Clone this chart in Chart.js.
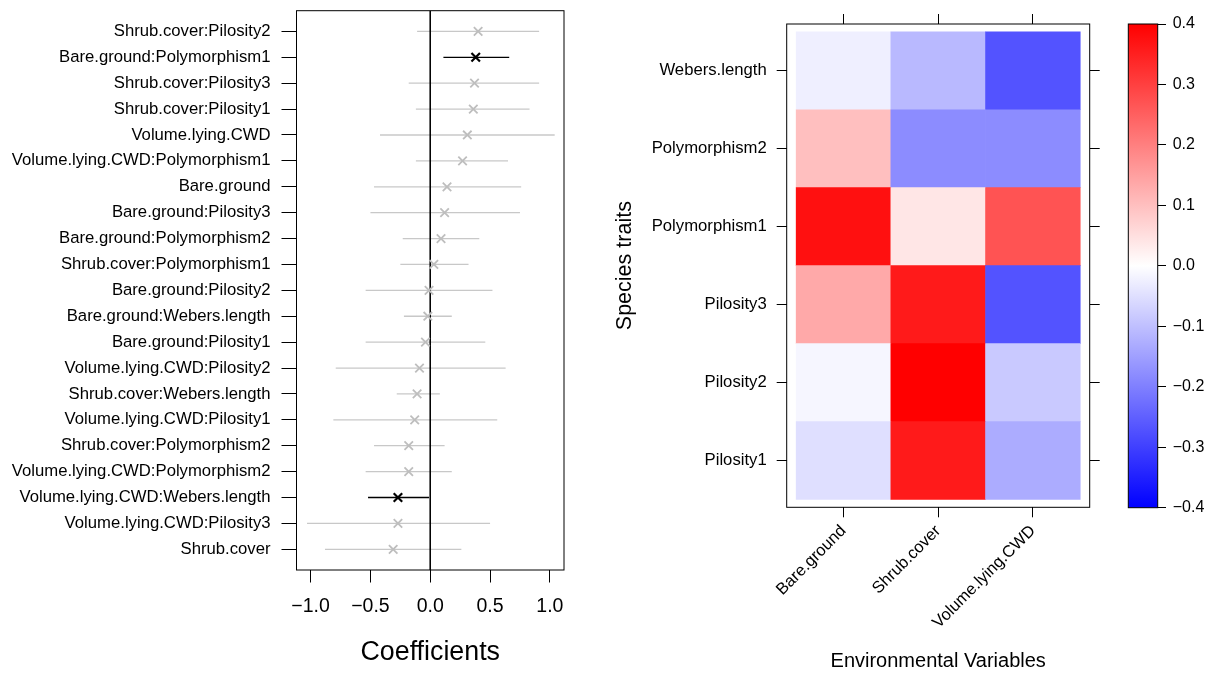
<!DOCTYPE html>
<html>
<head>
<meta charset="utf-8">
<script src="https://cdn.jsdelivr.net/npm/chart.js@4.4.1/dist/chart.umd.min.js"></script>
<style>
  html, body { margin: 0; padding: 0; background: #fff; }
  body { width: 1215px; height: 673px; position: relative; overflow: hidden; }
  .box { position: absolute; top: 0; height: 673px; }
  #coef-box { left: 0; width: 600px; }
  #heat-box { left: 600px; width: 520px; }
  #scale-box { left: 1120px; width: 95px; }
</style>
</head>
<body>
<div class="box" id="coef-box"><canvas id="coef-chart"></canvas></div>
<div class="box" id="heat-box"><canvas id="heat-chart"></canvas></div>
<div class="box" id="scale-box"><canvas id="scale-chart"></canvas></div>
<script>
// model terms, top to bottom
const terms = [
    'Shrub.cover:Pilosity2', 'Bare.ground:Polymorphism1', 'Shrub.cover:Pilosity3',
    'Shrub.cover:Pilosity1', 'Volume.lying.CWD', 'Volume.lying.CWD:Polymorphism1',
    'Bare.ground', 'Bare.ground:Pilosity3', 'Bare.ground:Polymorphism2',
    'Shrub.cover:Polymorphism1', 'Bare.ground:Pilosity2', 'Bare.ground:Webers.length',
    'Bare.ground:Pilosity1', 'Volume.lying.CWD:Pilosity2', 'Shrub.cover:Webers.length',
    'Volume.lying.CWD:Pilosity1', 'Shrub.cover:Polymorphism2', 'Volume.lying.CWD:Polymorphism2',
    'Volume.lying.CWD:Webers.length', 'Volume.lying.CWD:Pilosity3', 'Shrub.cover'
];
const estimates = [0.40, 0.38, 0.37, 0.36, 0.31, 0.27, 0.14, 0.12, 0.09, 0.03, -0.01, -0.02,
    -0.04, -0.09, -0.11, -0.13, -0.18, -0.18, -0.27, -0.27, -0.31];
const lower = [-0.11, 0.11, -0.18, -0.12, -0.42, -0.12, -0.47, -0.50, -0.23, -0.25, -0.54, -0.22,
    -0.54, -0.79, -0.28, -0.81, -0.47, -0.54, -0.52, -1.03, -0.88];
const upper = [0.91, 0.66, 0.91, 0.83, 1.04, 0.65, 0.76, 0.75, 0.41, 0.32, 0.52, 0.18,
    0.46, 0.63, 0.08, 0.56, 0.12, 0.18, -0.01, 0.50, 0.26];
const significant = [false, true, false, false, false, false, false, false, false, false, false,
    false, false, false, false, false, false, false, true, false, false];
const coefTicks = [-1, -0.5, 0, 0.5, 1];

// heatmap, traits listed bottom to top
const envVars = ['Bare.ground', 'Shrub.cover', 'Volume.lying.CWD'];
const traits = ['Pilosity1', 'Pilosity2', 'Pilosity3', 'Polymorphism1', 'Polymorphism2', 'Webers.length'];
const pilosity1 = [-0.05, 0.36, -0.13];
const pilosity2 = [-0.014, 0.40, -0.085];
const pilosity3 = [0.135, 0.36, -0.27];
const polymorphism1 = [0.375, 0.04, 0.27];
const polymorphism2 = [0.10, -0.18, -0.18];
const webersLength = [-0.025, -0.11, -0.27];
const colorTicks = [-0.4, -0.3, -0.2, -0.1, 0, 0.1, 0.2, 0.3, 0.4];

Chart.defaults.font.family = '"Liberation Sans", Arial, Helvetica, sans-serif';
Chart.defaults.color = '#000';

const fmt = v => (v < 0 ? '\u2212' : '') + Math.abs(v).toFixed(1);

function heatColor(v) {
    const t = Math.min(Math.abs(v) / 0.4, 1);
    const c = Math.round(255 * (1 - t));
    return v >= 0 ? `rgb(255,${c},${c})` : `rgb(${c},${c},255)`;
}

const framePlugin = {
    id: 'frame',
    afterDraw(chart) {
        const {ctx, chartArea: a} = chart;
        ctx.save();
        ctx.strokeStyle = '#000';
        ctx.lineWidth = 1;
        ctx.strokeRect(a.left, a.top, a.right - a.left, a.bottom - a.top);
        ctx.restore();
    }
};

const tickGrid = len => ({offset: false, drawOnChartArea: false, drawTicks: true, tickLength: len, color: '#000', lineWidth: 1});

// ---- coefficient plot ----
const ciSets = terms.map((t, i) => ({
    data: [{x: lower[i], y: i + 1}, {x: upper[i], y: i + 1}],
    showLine: true,
    borderColor: significant[i] ? '#000' : '#c8c8c8',
    borderWidth: 1.3,
    pointRadius: 0,
    order: 3
}));

new Chart(document.getElementById('coef-chart'), {
    type: 'scatter',
    data: {
        datasets: [
            {
                data: terms.map((t, i) => ({x: estimates[i], y: i + 1})),
                pointStyle: 'crossRot',
                pointRadius: 6,
                borderColor: significant.map(s => s ? '#000' : '#bebebe'),
                borderWidth: significant.map(s => s ? 2.2 : 1.8),
                order: 0
            },
            {
                data: [{x: 0, y: 0.2}, {x: 0, y: 21.8}],
                showLine: true,
                borderColor: '#000',
                borderWidth: 1,
                pointRadius: 0,
                order: 1
            },
            ...ciSets
        ]
    },
    options: {
        responsive: true,
        maintainAspectRatio: false,
        animation: false,
        layout: {padding: {top: 10.7, right: 36, left: 0, bottom: 0}},
        plugins: {legend: {display: false}, tooltip: {enabled: false}},
        scales: {
            x: {
                type: 'linear', min: -1.118, max: 1.118,
                afterBuildTicks: s => { s.ticks = coefTicks.map(v => ({value: v})); },
                afterFit: s => { s.height = 103; },
                grid: tickGrid(12.5),
                border: {display: false},
                ticks: {font: {size: 19.5}, padding: 12, maxRotation: 0, autoSkip: false, callback: v => fmt(v)},
                title: {display: true, text: 'Coefficients', font: {size: 26.8}, padding: {top: 0, bottom: 4.5}}
            },
            y: {
                type: 'linear', min: 0.2, max: 21.8, reverse: true,
                afterBuildTicks: s => { s.ticks = terms.map((t, i) => ({value: i + 1})); },
                afterFit: s => { s.width = 296.5; s.paddingTop = 0; s.paddingBottom = 0; },
                grid: tickGrid(15),
                border: {display: false},
                ticks: {font: {size: 16.7}, padding: 11, autoSkip: false, callback: v => terms[Math.round(v) - 1]}
            }
        }
    },
    plugins: [framePlugin]
});

// ---- heatmap ----
const heatRows = [pilosity1, pilosity2, pilosity3, polymorphism1, polymorphism2, webersLength];
const envTicks = s => { s.ticks = envVars.map((e, i) => ({value: i + 1})); };
const traitTicks = s => { s.ticks = traits.map((t, i) => ({value: i + 0.5})); };

new Chart(document.getElementById('heat-chart'), {
    type: 'bar',
    data: {
        datasets: traits.map((trait, r) => ({
            label: trait,
            data: envVars.map((e, c) => ({x: c + 1, y: [r, r + 1]})),
            backgroundColor: heatRows[r].map(heatColor),
            borderWidth: 0,
            barPercentage: 1,
            categoryPercentage: 1,
            grouped: false
        }))
    },
    options: {
        responsive: true,
        maintainAspectRatio: false,
        animation: false,
        layout: {padding: {top: 14, right: 20.3, left: 0, bottom: 0}},
        plugins: {legend: {display: false}, tooltip: {enabled: false}},
        scales: {
            x: {
                type: 'linear', position: 'bottom', min: 0.4, max: 3.6, offset: false,
                afterBuildTicks: envTicks,
                afterFit: s => { s.height = 165.7; },
                grid: tickGrid(10),
                border: {display: false},
                ticks: {font: {size: 16.5}, padding: 4, minRotation: 45, maxRotation: 45, autoSkip: false,
                    callback: v => envVars[Math.round(v) - 1]},
                title: {display: true, text: 'Environmental Variables', font: {size: 20}, padding: {top: 0, bottom: 0}}
            },
            x2: {
                axis: 'x', type: 'linear', position: 'top', min: 0.4, max: 3.6, offset: false,
                afterBuildTicks: envTicks,
                afterFit: s => { s.height = 10; },
                grid: tickGrid(10),
                border: {display: false},
                ticks: {display: false}
            },
            y: {
                type: 'linear', position: 'left', min: -0.1, max: 6.1,
                afterBuildTicks: traitTicks,
                afterFit: s => { s.width = 186.7; },
                grid: tickGrid(10),
                border: {display: false},
                ticks: {font: {size: 16.7}, padding: 10, autoSkip: false,
                    callback: v => traits[Math.round(v - 0.5)]},
                title: {display: true, text: 'Species traits', font: {size: 21.5}, padding: {top: 12, bottom: 0}}
            },
            y2: {
                axis: 'y', type: 'linear', position: 'right', min: -0.1, max: 6.1,
                afterBuildTicks: traitTicks,
                afterFit: s => { s.width = 10; },
                grid: tickGrid(10),
                border: {display: false},
                ticks: {display: false}
            }
        }
    },
    plugins: [framePlugin]
});

// ---- colour key ----
new Chart(document.getElementById('scale-chart'), {
    type: 'bar',
    data: {
        labels: [''],
        datasets: [{
            data: [[colorTicks[0], colorTicks[colorTicks.length - 1]]],
            backgroundColor: c => {
                const a = c.chart.chartArea;
                if (!a) return '#fff';
                const g = c.chart.ctx.createLinearGradient(0, a.bottom, 0, a.top);
                g.addColorStop(0, heatColor(-0.4));
                g.addColorStop(0.5, heatColor(0));
                g.addColorStop(1, heatColor(0.4));
                return g;
            },
            borderWidth: 0,
            barPercentage: 1,
            categoryPercentage: 1
        }]
    },
    options: {
        responsive: true,
        maintainAspectRatio: false,
        animation: false,
        layout: {padding: {top: 24, right: 0, left: 8.3, bottom: 165.3}},
        plugins: {legend: {display: false}, tooltip: {enabled: false}},
        scales: {
            x: {display: false},
            y: {
                type: 'linear', position: 'right', min: -0.4, max: 0.4,
                afterBuildTicks: s => { s.ticks = colorTicks.map(v => ({value: v})); },
                afterFit: s => { s.width = 57.3; },
                grid: tickGrid(8.3),
                border: {display: false},
                ticks: {font: {size: 16}, padding: 6.7, autoSkip: false, callback: v => fmt(v)}
            }
        }
    },
    plugins: [framePlugin]
});
</script>
</body>
</html>
